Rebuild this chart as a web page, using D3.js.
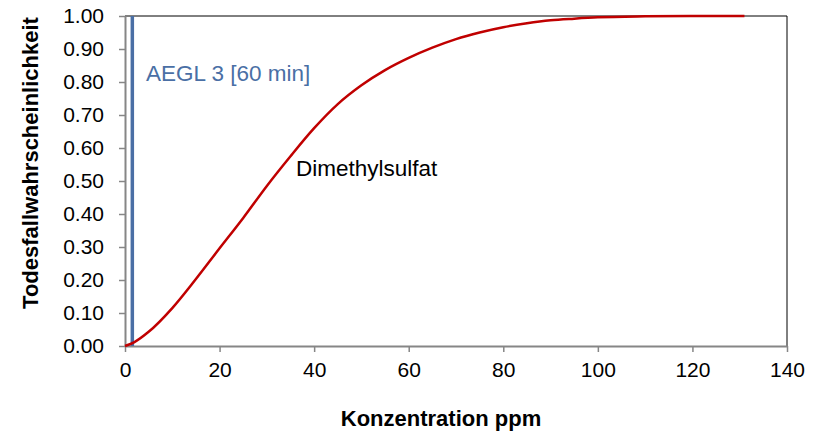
<!DOCTYPE html>
<html><head><meta charset="utf-8">
<script src="https://cdn.jsdelivr.net/npm/d3@7"></script>
<style>body{margin:0;background:#fff}svg{display:block}text{font-family:"Liberation Sans",Arial,sans-serif}</style>
</head><body><svg id="c" width="819" height="431"></svg>
<script>
const concentration = [0,2,5,10,15,20,25,30,35,40,45,50,55,60,65,70,75,80,85,90,95,100,110,120,131];
const probability = [0.000,0.012,0.043,0.115,0.203,0.296,0.388,0.485,0.575,0.660,0.733,0.790,0.836,0.873,0.904,0.930,0.950,0.966,0.978,0.987,0.992,0.996,0.999,1.000,1.000];
const aeglValue = 1.55;
const xTicks = [0,20,40,60,80,100,120,140];
const yTicks = [0,0.1,0.2,0.3,0.4,0.5,0.6,0.7,0.8,0.9,1.0];
const seriesName = "Dimethylsulfat";
const aeglLabel = "AEGL 3 [60 min]";
const xTitle = "Konzentration ppm";
const yTitle = "Todesfallwahrscheinlichkeit";

const svg = d3.select("#c");
const m = {l:125, r:787, t:16, b:346};
const x = d3.scaleLinear().domain([0,140]).range([m.l,m.r]);
const y = d3.scaleLinear().domain([0,1]).range([m.b,m.t]);

svg.append("path").attr("d",`M${m.l},${m.t}H${m.r}V${m.b}`).attr("fill","none").attr("stroke","#000").attr("stroke-width",1);

const xa = svg.append("g").attr("transform",`translate(0,${m.b})`)
  .call(d3.axisBottom(x).tickValues(xTicks).tickSize(6).tickSizeOuter(0).tickPadding(10).tickFormat(d3.format("d")));
const ya = svg.append("g").attr("transform",`translate(${m.l},0)`)
  .call(d3.axisLeft(y).tickValues(yTicks).tickSize(6).tickSizeOuter(0).tickPadding(15).tickFormat(d3.format(".2f")));
[xa,ya].forEach(a=>{
  a.select(".domain").attr("stroke","#868686").attr("stroke-width",2);
  a.selectAll(".tick line").attr("stroke","#868686").attr("stroke-width",1.5);
  a.selectAll("text").attr("fill","#000").style("font-size","21px").style("font-family","'Liberation Sans',Arial,sans-serif");
});

svg.append("line").attr("x1",x(aeglValue)).attr("x2",x(aeglValue)).attr("y1",y(1)).attr("y2",y(0))
  .attr("stroke","#4A6FA5").attr("stroke-width",3.5);

const line = d3.line().x((d,i)=>x(concentration[i])).y(d=>y(d)).curve(d3.curveMonotoneX);
svg.append("path").datum(probability).attr("d",line).attr("fill","none").attr("stroke","#C00000").attr("stroke-width",2.5);

svg.append("text").attr("x",146).attr("y",81).attr("fill","#4A6FA5").style("font-size","22.5px").text(aeglLabel);
svg.append("text").attr("x",296).attr("y",176).attr("fill","#000").style("font-size","22.5px").text(seriesName);

svg.append("text").attr("x",441).attr("y",426).attr("text-anchor","middle").style("font-size","22px").style("font-weight","bold").text(xTitle);
svg.append("text").attr("transform","translate(38,163) rotate(-90)").attr("text-anchor","middle").style("font-size","22px").style("font-weight","bold").text(yTitle);
</script></body></html>
